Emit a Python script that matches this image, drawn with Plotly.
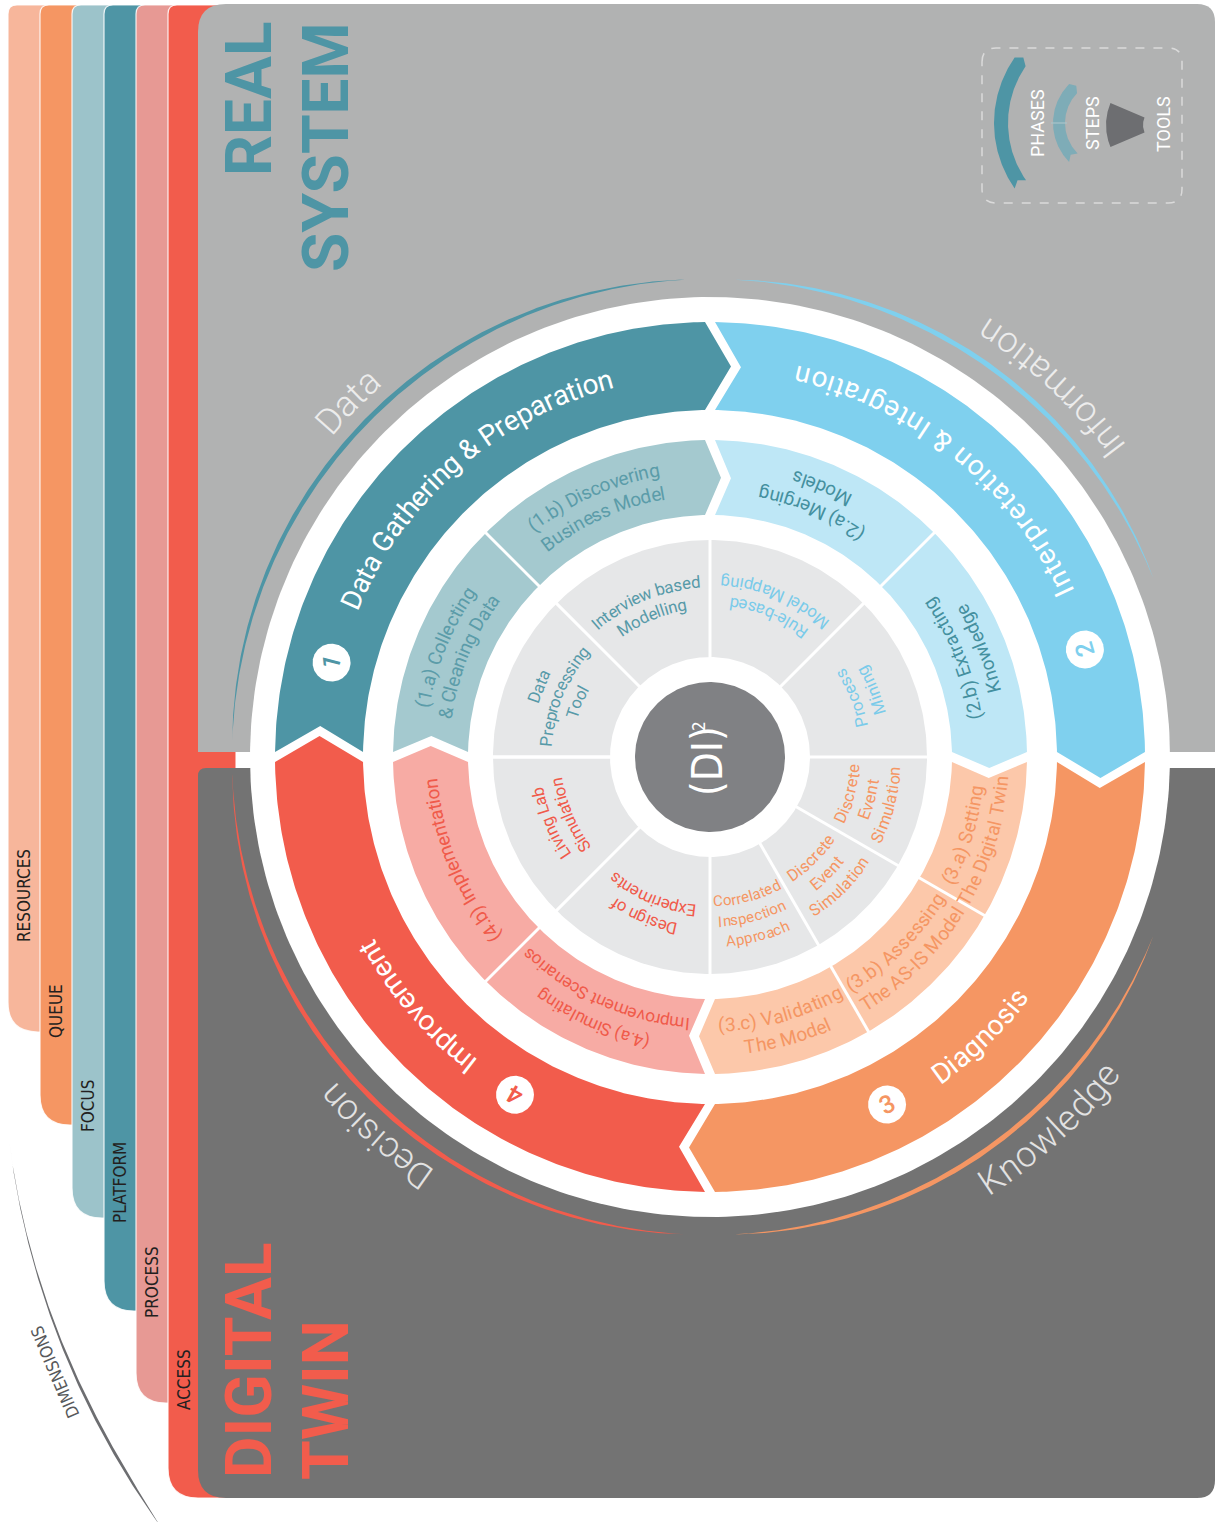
import numpy as np
import plotly.graph_objects as go

# ===================== DATA =====================
dimension_names = ["RESOURCES", "QUEUE", "FOCUS", "PLATFORM", "PROCESS", "ACCESS"]
phase_titles = ["Data Gathering & Preparation", "Interpretation & Integration", "Diagnosis", "Improvement"]
phase_numbers = ["1", "2", "3", "4"]
phase_outcomes = ["Data", "Information", "Knowledge", "Decision"]
phase_start_deg = [180, 90, 0, -90]
phase_end_deg = [90, 0, -90, -180]
step_labels = [
    [["(1.a) Collecting", "& Cleaning Data"], ["(1.b) Discovering", "Business Model"]],
    [["(2.a) Merging", "Models"], ["(2.b) Extracting", "Knowledge"]],
    [["(3.a) Setting", "The Digital Twin"], ["(3.b) Assessing", "The AS-IS Model"], ["(3.c) Validating", "The Model"]],
    [["(4.a) Simulating", "Improvement Scenarios"], ["(4.b) Implementation"]],
]
step_bounds_deg = [[180, 135, 90], [90, 45, 0], [0, -30, -60, -90], [-90, -135, -180]]
tool_labels = [
    [["Data", "Preprocessing", "Tool"], ["Interview based", "Modelling"]],
    [["Rule-based", "Model Mapping"], ["Process", "Mining"]],
    [["Discrete", "Event", "Simulation"], ["Discrete", "Event", "Simulation"], ["Correlated", "Inspection", "Approach"]],
    [["Design of", "Experiments"], ["Living Lab", "Simulation"]],
]
tool_bounds_deg = [[180, 135, 90], [90, 45, 0], [0, -30, -60, -90], [-90, -135, -180]]
legend_labels = ["PHASES", "STEPS", "TOOLS"]
panel_titles = [["REAL", "SYSTEM"], ["DIGITAL", "TWIN"]]
center_label = ["(DI)", "2"]
dimensions_title = "DIMENSIONS"

# ===================== STYLE / LAYOUT =====================
W, H = 1216, 1522
CX, CY = 710, 757
FONT = "Roboto, 'Open Sans', sans-serif"
NARROW = "'Liberation Sans Narrow', 'DejaVu Sans Condensed', 'Roboto Condensed', Roboto, sans-serif"

phase_colors = ["#4e95a5", "#7fd0ee", "#f59663", "#f25c4c"]
step_colors = ["#a4c9cf", "#bee7f6", "#fcc8aa", "#f7aba4"]
step_text_colors = ["#5b9ca9", "#44909f", "#f59663", "#f05a4a"]
tool_text_colors = ["#579aa8", "#7acbea", "#f59663", "#f05a4a"]
dimension_colors = ["#f7b69b", "#f59663", "#9cc3ca", "#4e95a5", "#e79994", "#f25c4c"]
dimension_bottoms = [1032, 1125, 1218, 1311, 1403, 1498]
dimension_label_y = [896, 1011, 1106, 1183, 1282, 1380]
text_modes = ["cw", "ccw", "ccw", "cw"]
phase_title_center = [131, 51, -46, -139.5]
phase_title_track = [0.0, 1.0, 0.0, 0.0]
number_angle = [166, 16, -63, -120]
outcome_angle = [135.5, 47.2, -47.6, -131.4]
outcome_arc = [(178, 93), (87, 22), (-22, -87), (-93, -178)]
outcome_text_colors = ["#ececec", "#ececec", "#e2e2e2", "#e2e2e2"]
step_offsets = [[0, 1.5], [0, -0.5], [-2.0, 0, 0.5], [-1.5, 0]]
step_sizes = [[19, 19], [19, 19], [19, 19, 19], [17.3, 19]]
tool_sizes = [[16.8, 16.8], [16.8, 16.8], [16.5, 16.3, 15.0], [16.8, 16.8]]

R_CENTER, R_TOOL_IN, R_TOOL_OUT = 75, 100, 217
R_STEP_IN, R_STEP_OUT = 242, 317
R_PHASE_IN, R_PHASE_OUT = 347, 435
R_WHITE = 460

CW = {' ': 0.248, 'a': 0.544, 'b': 0.561, 'c': 0.523, 'd': 0.564, 'e': 0.530, 'f': 0.347, 'g': 0.561,
      'h': 0.551, 'i': 0.243, 'j': 0.239, 'k': 0.507, 'l': 0.243, 'm': 0.876, 'n': 0.552, 'o': 0.570,
      'p': 0.561, 'q': 0.568, 'r': 0.338, 's': 0.516, 't': 0.327, 'u': 0.551, 'v': 0.484, 'w': 0.751,
      'x': 0.496, 'y': 0.473, 'z': 0.496, 'A': 0.652, 'B': 0.623, 'C': 0.651, 'D': 0.656, 'E': 0.568,
      'F': 0.553, 'G': 0.681, 'H': 0.713, 'I': 0.272, 'J': 0.552, 'K': 0.627, 'L': 0.538, 'M': 0.873,
      'N': 0.713, 'O': 0.688, 'P': 0.631, 'Q': 0.688, 'R': 0.616, 'S': 0.593, 'T': 0.597, 'U': 0.649,
      'V': 0.636, 'W': 0.887, 'X': 0.627, 'Y': 0.601, 'Z': 0.599, '(': 0.342, ')': 0.348, '.': 0.263,
      '&': 0.622, '-': 0.276}
for d in "0123456789":
    CW[d] = 0.561

fig = go.Figure()
shapes = []
annos = []


def P(r, th, cx=CX, cy=CY):
    t = np.radians(th)
    return cx + r * np.cos(t), cy - r * np.sin(t)


def arc(r, a0, a1, cx=CX, cy=CY, step=0.5):
    n = max(6, int(abs(a1 - a0) / step) + 1)
    th = np.linspace(a0, a1, n)
    return P(r, th, cx, cy)


def add_poly(xs, ys, color):
    xs = list(xs) + [xs[0]]
    ys = list(ys) + [ys[0]]
    fig.add_trace(go.Scatter(x=xs, y=ys, mode='lines', fill='toself', fillcolor=color,
                             line=dict(width=0, color=color), hoverinfo='skip', showlegend=False))


def add_line(xs, ys, color, lw):
    fig.add_trace(go.Scatter(x=list(xs), y=list(ys), mode='lines', line=dict(width=lw, color=color),
                             hoverinfo='skip', showlegend=False))


def disk(r, color, cx=CX, cy=CY):
    x, y = arc(r, 0, 360, cx, cy, step=1)
    add_poly(x, y, color)


def chevron(ts, te, rin, rout, gap, depth, color, cx=CX, cy=CY):
    rm = (rin + rout) / 2
    d = lambda px, r: np.degrees(px / r)
    xo, yo = arc(rout, ts - d(gap, rout), te + d(gap, rout), cx, cy)
    tx, ty = P(rm, te + d(gap, rm) - d(depth, rm), cx, cy)
    xi, yi = arc(rin, te + d(gap, rin), ts - d(gap, rin), cx, cy)
    nx, ny = P(rm, ts - d(gap, rm) - d(depth, rm), cx, cy)
    add_poly(np.concatenate([xo, [tx], xi, [nx]]), np.concatenate([yo, [ty], yi, [ny]]), color)


def sector(a0, a1, rin, rout, color, cx=CX, cy=CY):
    xo, yo = arc(rout, a0, a1, cx, cy)
    xi, yi = arc(rin, a1, a0, cx, cy)
    add_poly(np.concatenate([xo, xi]), np.concatenate([yo, yi]), color)


def crescent(a0, a1, r, wmax, color):
    th = np.linspace(a0, a1, 240)
    t = np.linspace(0, 1, 240)
    w = wmax * np.sin(np.pi * t) ** 0.9
    xo, yo = P(r + w, th)
    xi, yi = P(r, th[::-1])
    add_poly(np.concatenate([xo, xi]), np.concatenate([yo, yi]), color)


def norm_angle(a):
    return (a + 180) % 360 - 180


def char_annos(line, r, thc, mode, size, color, family=FONT, weight=400, track=0.0):
    ws = [CW.get(c, 0.56) * size + track for c in line]
    L = sum(ws)
    s = 0
    for c, w in zip(line, ws):
        sc = s + w / 2
        s += w
        if c == ' ':
            continue
        off = np.degrees((sc - L / 2) / r)
        th = thc - off if mode == 'cw' else thc + off
        ang = 90 - th if mode == 'cw' else -(90 + th)
        x, y = P(r, th)
        annos.append(dict(x=x, y=y, xref='x', yref='y', text=c.replace('&', '&amp;'), showarrow=False,
                          textangle=norm_angle(ang),
                          font=dict(family=family, size=size, color=color, weight=weight)))


def block(lines, rc, thc, mode, size, color, ls, weight=400, track=0.0):
    n = len(lines)
    for k, line in enumerate(lines):
        if mode == 'cw':
            r = rc + (n - 1) / 2 * ls - k * ls
        else:
            r = rc - (n - 1) / 2 * ls + k * ls
        char_annos(line, r, thc, mode, size, color, weight=weight, track=track)


def rrect_path(x0, y0, x1, y1, tl=0, tr=0, br=0, bl=0):
    p = f"M {x0},{y0 + tl} Q {x0},{y0} {x0 + tl},{y0} L {x1 - tr},{y0} Q {x1},{y0} {x1},{y0 + tr} "
    p += f"L {x1},{y1 - br} Q {x1},{y1} {x1 - br},{y1} L {x0 + bl},{y1} Q {x0},{y1} {x0},{y1 - bl} Z"
    return p


# ---------------- dimension bars ----------------
for i, (name, col) in enumerate(zip(dimension_names, dimension_colors)):
    xl = 8 + 32 * i
    shapes.append(dict(type='path', xref='x', yref='y', layer='below',
                       path=rrect_path(xl, 5, 236, dimension_bottoms[i], tl=9, bl=30),
                       fillcolor=col, line=dict(color='rgba(255,255,255,0.85)', width=1.2)))
    annos.append(dict(x=xl + 16, y=dimension_label_y[i], xref='x', yref='y', text=name, showarrow=False,
                      textangle=-90, font=dict(family=NARROW, size=17, color='#231f20')))

# ---------------- panels ----------------
shapes.append(dict(type='path', xref='x', yref='y', layer='below',
                   path=rrect_path(198, 4, 1215, 752, tl=28, tr=18),
                   fillcolor='#b1b2b2', line=dict(width=0)))
shapes.append(dict(type='path', xref='x', yref='y', layer='below',
                   path=rrect_path(198, 768, 1215, 1498, tl=8, br=18, bl=28),
                   fillcolor='#737373', line=dict(width=0)))

# legend dashed box
shapes.append(dict(type='path', xref='x', yref='y', layer='below',
                   path=rrect_path(982, 48, 1182, 203, tl=14, tr=14, br=14, bl=14),
                   fillcolor='rgba(0,0,0,0)', line=dict(color='#dadada', width=1.5, dash='dash')))

# ---------------- DIMENSIONS arc ----------------
dcx, dcy, dr = 833, 1040, 830
th = np.linspace(173.5, 144.2, 200)
t = np.linspace(0, 1, 200)
w = 5.0 * t ** 1.3 * (1 - t ** 6)
ts = np.radians(th)
xo = dcx + (dr - w) * np.cos(ts)
yo = dcy + (dr - w) * np.sin(ts)
xi = dcx + dr * np.cos(ts[::-1])
yi = dcy + dr * np.sin(ts[::-1])
add_poly(np.concatenate([xo, xi]), np.concatenate([yo, yi]), '#6d6e71')
annos.append(dict(x=55, y=1372, xref='x', yref='y', text=dimensions_title, showarrow=False, textangle=-113,
                  font=dict(family=NARROW, size=17, color='#58595b')))

# ---------------- panel titles ----------------
title_colors = ['#4e95a5', '#f25c4c']
title_pos = [[(249, 99), (326, 147)], [(249, 1360), (326, 1400)]]
for words, col, pos in zip(panel_titles, title_colors, title_pos):
    for wd, (x, y) in zip(words, pos):
        annos.append(dict(x=x, y=y, xref='x', yref='y', text=wd, showarrow=False, textangle=-90,
                          font=dict(family=FONT, size=64, color=col, weight=700)))

# ---------------- outcome crescents & labels ----------------
for i in range(4):
    a0, a1 = outcome_arc[i]
    crescent(a0, a1, 478, 5, phase_colors[i])
    mode = text_modes[i]
    char_annos(phase_outcomes[i], 508, outcome_angle[i], mode, 36, outcome_text_colors[i], weight=300)

# ---------------- wheel ----------------
disk(R_WHITE, '#ffffff')
for i in range(4):
    chevron(phase_start_deg[i], phase_end_deg[i], R_PHASE_IN, R_PHASE_OUT, 5, 26, phase_colors[i])
for i in range(4):
    chevron(phase_start_deg[i], phase_end_deg[i], R_STEP_IN, R_STEP_OUT, 5, 16, step_colors[i])
    for b in step_bounds_deg[i][1:-1]:
        x, y = P(np.array([R_STEP_IN - 3, R_STEP_OUT + 3]), b)
        add_line(x, y, '#ffffff', 3)

disk(R_TOOL_OUT, '#e6e7e8')
disk(R_TOOL_IN, '#ffffff')
all_tool_bounds = sorted({b for bs in tool_bounds_deg for b in bs})
for b in all_tool_bounds:
    x, y = P(np.array([R_TOOL_IN - 2, R_TOOL_OUT + 2]), b)
    add_line(x, y, '#ffffff', 3)
disk(R_CENTER, '#808184')

# number circles
for i in range(4):
    nx, ny = P(390, number_angle[i])
    disk(19, '#ffffff', nx, ny)
    mode = text_modes[i]
    ang = 90 - number_angle[i] if mode == 'cw' else -(90 + number_angle[i])
    annos.append(dict(x=nx, y=ny, xref='x', yref='y', text=phase_numbers[i], showarrow=False,
                      textangle=norm_angle(ang),
                      font=dict(family=FONT, size=25, color=phase_colors[i], weight=500)))

# phase titles
for i in range(4):
    char_annos(phase_titles[i], 391, phase_title_center[i], text_modes[i], 28, '#ffffff',
               weight=400, track=phase_title_track[i])

# step labels
for i in range(4):
    bs = step_bounds_deg[i]
    for j, lines in enumerate(step_labels[i]):
        thc = (bs[j] + bs[j + 1]) / 2 + step_offsets[i][j]
        block(lines, 280, thc, text_modes[i], step_sizes[i][j], step_text_colors[i], 24)

# tool labels
for i in range(4):
    bs = tool_bounds_deg[i]
    for j, lines in enumerate(tool_labels[i]):
        thc = (bs[j] + bs[j + 1]) / 2
        block(lines, 165, thc, text_modes[i], tool_sizes[i][j], tool_text_colors[i], 20.5)

# center label
annos.append(dict(x=707, y=761, xref='x', yref='y', text=center_label[0], showarrow=False, textangle=-90,
                  font=dict(family=NARROW, size=42, color='#ffffff')))
annos.append(dict(x=699, y=726, xref='x', yref='y', text=center_label[1], showarrow=False, textangle=-90,
                  font=dict(family=NARROW, size=17, color='#ffffff')))

# ---------------- legend glyphs ----------------
LX, LY = 1108, 123
chevron(215, 145, 100, 114, 0, 5, '#4e95a5', LX, LY)
chevron(225, 135, 43, 55, 0, 4, '#7eacb7', LX, LY)
x, y = P(np.array([41, 57]), 180, LX, LY)
add_line(x, y, '#a9c4ca', 1.2)
sector(157, 203, 19, 56, '#6d6e71', 1162, 125)
for lab, (x, y) in zip(legend_labels, [(1037, 123), (1092, 123), (1163, 124)]):
    annos.append(dict(x=x, y=y, xref='x', yref='y', text=lab, showarrow=False, textangle=-90,
                      font=dict(family=FONT, size=18, color='#ffffff')))

fig.update_layout(
    width=W, height=H, margin=dict(l=0, r=0, t=0, b=0),
    paper_bgcolor='#ffffff', plot_bgcolor='#ffffff',
    xaxis=dict(range=[0, W], visible=False, fixedrange=True),
    yaxis=dict(range=[H, 0], visible=False, fixedrange=True),
    shapes=shapes, annotations=annos, showlegend=False,
)

fig.write_html("out.html", config={'displayModeBar': False},
               post_script="document.body.style.margin='0';document.body.style.overflow='hidden';")
